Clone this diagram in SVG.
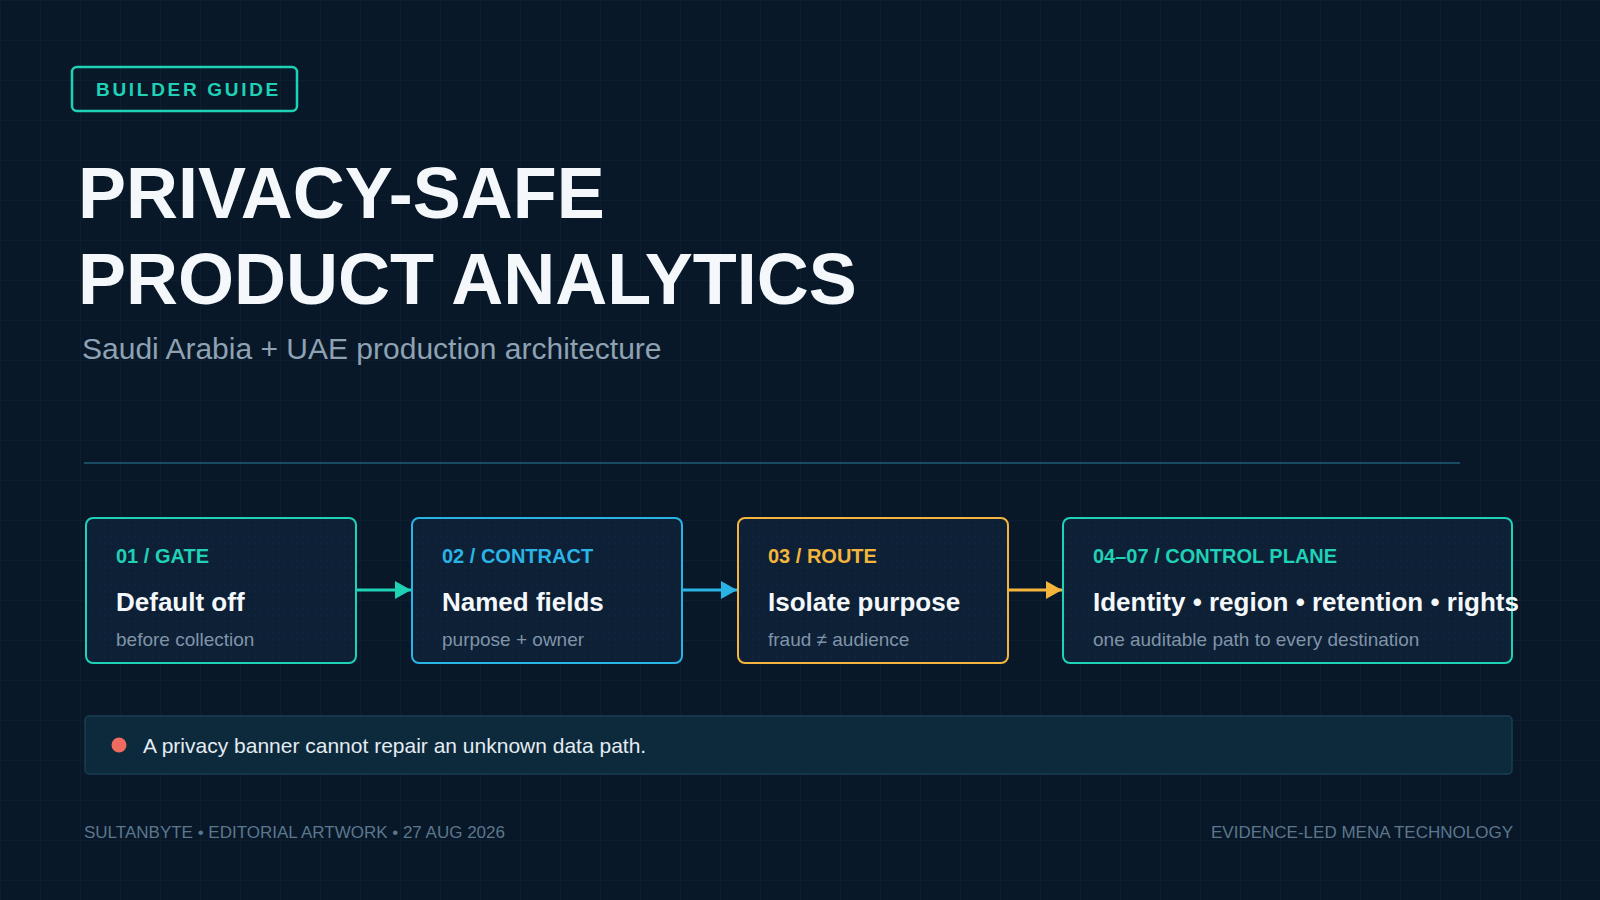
<svg xmlns="http://www.w3.org/2000/svg" width="1600" height="900" viewBox="0 0 1600 900">
  <defs>
    <pattern id="grid" width="40" height="40" patternUnits="userSpaceOnUse">
      <path d="M40 0 L0 0 0 40" fill="none" stroke="#0f2337" stroke-width="1"/>
    </pattern>
    <pattern id="dots" width="6" height="6" patternUnits="userSpaceOnUse">
      <circle cx="3" cy="3" r="0.6" fill="#1a3550" opacity="0.6"/>
    </pattern>
    <marker id="ah-teal" viewBox="0 0 16 18" markerWidth="16" markerHeight="18" refX="16" refY="9" orient="auto" markerUnits="userSpaceOnUse">
      <path d="M0 0 L16 9 L0 18 Z" fill="#1fd1b5"/>
    </marker>
    <marker id="ah-blue" viewBox="0 0 16 18" markerWidth="16" markerHeight="18" refX="16" refY="9" orient="auto" markerUnits="userSpaceOnUse">
      <path d="M0 0 L16 9 L0 18 Z" fill="#2ab4e6"/>
    </marker>
    <marker id="ah-amber" viewBox="0 0 16 18" markerWidth="16" markerHeight="18" refX="16" refY="9" orient="auto" markerUnits="userSpaceOnUse">
      <path d="M0 0 L16 9 L0 18 Z" fill="#f4b53c"/>
    </marker>
  </defs>
  <style>
    text { font-family: "Liberation Sans", Arial, Helvetica, sans-serif; }
    .box { fill: #0d2036; stroke-width: 2; }
    .boxdots { fill: url(#dots); }
    .lbl { font-size: 20px; font-weight: 700; }
    .ttl { font-size: 26px; font-weight: 700; fill: #f4f8fb; }
    .sub { font-size: 19px; fill: #8094a8; }
    .teal { stroke: #1fd1b5; }
    .blue { stroke: #2ab4e6; }
    .amber { stroke: #f4b53c; }
    .conn { fill: none; stroke-width: 3; }
    .foot { font-size: 17px; fill: #5c778d; }
  </style>

  <rect width="1600" height="900" fill="#081828"/>
  <rect width="1600" height="900" fill="url(#grid)"/>

  <g id="badge">
    <rect x="72" y="67" width="225" height="44" rx="5" fill="none" stroke="#1fd1b5" stroke-width="2.5"/>
    <text x="96" y="96" font-size="19" font-weight="700" letter-spacing="2.7" fill="#1fd1b5">BUILDER GUIDE</text>
  </g>

  <g id="title">
    <text x="78" y="218" font-size="72" font-weight="700" fill="#f4f8fb">PRIVACY-SAFE</text>
    <text x="78" y="304" font-size="72" font-weight="700" fill="#f4f8fb">PRODUCT ANALYTICS</text>
    <text x="82" y="359" font-size="30" fill="#8ea2b4">Saudi Arabia + UAE production architecture</text>
  </g>

  <line x1="84" y1="463" x2="1460" y2="463" stroke="#1b4a63" stroke-width="2"/>

  <g id="node-gate">
    <rect class="box teal" x="86" y="518" width="270" height="145" rx="7"/>
    <rect class="boxdots" x="87" y="519" width="268" height="143" rx="6"/>
    <text class="lbl" x="116" y="563" fill="#1fd1b5">01 / GATE</text>
    <text class="ttl" x="116" y="611">Default off</text>
    <text class="sub" x="116" y="646">before collection</text>
  </g>

  <g id="node-contract">
    <rect class="box blue" x="412" y="518" width="270" height="145" rx="7"/>
    <rect class="boxdots" x="413" y="519" width="268" height="143" rx="6"/>
    <text class="lbl" x="442" y="563" fill="#2ab4e6">02 / CONTRACT</text>
    <text class="ttl" x="442" y="611">Named fields</text>
    <text class="sub" x="442" y="646">purpose + owner</text>
  </g>

  <g id="node-route">
    <rect class="box amber" x="738" y="518" width="270" height="145" rx="7"/>
    <rect class="boxdots" x="739" y="519" width="268" height="143" rx="6"/>
    <text class="lbl" x="768" y="563" fill="#f4b53c">03 / ROUTE</text>
    <text class="ttl" x="768" y="611">Isolate purpose</text>
    <text class="sub" x="768" y="646">fraud ≠ audience</text>
  </g>

  <g id="node-control">
    <rect class="box teal" x="1063" y="518" width="449" height="145" rx="7"/>
    <rect class="boxdots" x="1064" y="519" width="447" height="143" rx="6"/>
    <text class="lbl" x="1093" y="563" fill="#1fd1b5">04–07 / CONTROL PLANE</text>
    <text class="ttl" x="1093" y="611">Identity • region • retention • rights</text>
    <text class="sub" x="1093" y="646">one auditable path to every destination</text>
  </g>

  <g id="connectors">
    <line class="conn teal" x1="357" y1="590" x2="411" y2="590" marker-end="url(#ah-teal)"/>
    <line class="conn blue" x1="683" y1="590" x2="737" y2="590" marker-end="url(#ah-blue)"/>
    <line class="conn amber" x1="1009" y1="590" x2="1062" y2="590" marker-end="url(#ah-amber)"/>
  </g>

  <g id="banner">
    <rect x="85" y="716" width="1427" height="58" rx="4" fill="#0c2a3c" stroke="#1a3e52" stroke-width="1.5"/>
    <circle cx="119" cy="745" r="7.5" fill="#ef6b5f"/>
    <text x="143" y="753" font-size="21" fill="#e4ecf2">A privacy banner cannot repair an unknown data path.</text>
  </g>

  <g id="footer">
    <text class="foot" x="84" y="838">SULTANBYTE • EDITORIAL ARTWORK • 27 AUG 2026</text>
    <text class="foot" x="1513" y="838" text-anchor="end">EVIDENCE-LED MENA TECHNOLOGY</text>
  </g>
</svg>
